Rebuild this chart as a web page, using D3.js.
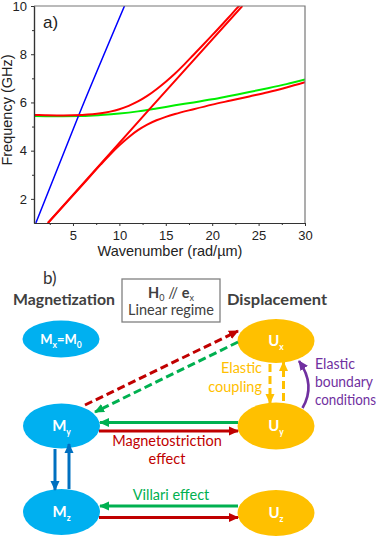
<!DOCTYPE html>
<html>
<head>
    <title>Dispersion and coupling</title>
    <script src="https://d3js.org/d3.v7.min.js"></script>
    <style>
        body { margin: 0; background: #fff; }
        .tick text { font-family: "Liberation Sans", Arial, sans-serif; font-size: 13px; fill: #222; }
        .dia { font-family: Lato, "Open Sans", sans-serif; }
    </style>
</head>
<body>
<svg width="382" height="537"></svg>
<script>
    // dispersion curves (k in rad/um, f in GHz)
    var blueK = [1.0, 5.6, 10.55];
    var blueF = [1.0, 5.45, 10.0];

    var elasticK = [2.3, 13.2, 23.25];
    var elasticF = [1.0, 5.7, 10.0];

    var upperK = [0.8, 2, 4, 6, 8, 9, 10, 11, 12, 13, 14, 15, 16, 17, 18, 19, 20, 21, 22, 23, 23.5];
    var upperF = [5.48, 5.47, 5.46, 5.48, 5.55, 5.62, 5.72, 5.86, 6.04, 6.27, 6.55, 6.86, 7.2, 7.58, 7.98, 8.38, 8.79, 9.2, 9.62, 10.04, 10.2];

    var lowerK = [2.3, 4, 6, 8, 9, 10, 11, 12, 13, 14, 15, 16, 18, 20, 22, 24, 26, 28, 30];
    var lowerF = [1.0, 1.72, 2.57, 3.43, 3.84, 4.22, 4.56, 4.85, 5.08, 5.26, 5.4, 5.52, 5.72, 5.91, 6.08, 6.25, 6.42, 6.62, 6.84];

    var greenK = [0.8, 3, 6, 8, 10, 12, 14, 16, 18, 20, 22, 24, 26, 28, 30];
    var greenF = [5.44, 5.43, 5.44, 5.48, 5.54, 5.63, 5.75, 5.88, 6.0, 6.13, 6.28, 6.43, 6.59, 6.76, 6.95];

    var xTicks = [5, 10, 15, 20, 25, 30];
    var xMinor = [2.5, 7.5, 12.5, 17.5, 22.5, 27.5];
    var yTicks = [2, 4, 6, 8, 10];
    var yMinor = [3, 5, 7, 9];

    var svg = d3.select("svg");

    var x = d3.scaleLinear().domain([0.8, 30]).range([34, 305]);
    var y = d3.scaleLinear().domain([1, 10]).range([223, 6]);

    function zip(ks, fs) {
        return ks.map(function (k, i) { return [k, fs[i]]; });
    }

    // ---------- panel a ----------
    svg.append("defs").append("clipPath").attr("id", "plotclip")
        .append("rect")
        .attr("x", x.range()[0]).attr("y", y.range()[1])
        .attr("width", x.range()[1] - x.range()[0])
        .attr("height", y.range()[0] - y.range()[1]);

    var line = d3.line()
        .x(function (d) { return x(d[0]); })
        .y(function (d) { return y(d[1]); })
        .curve(d3.curveMonotoneX);

    var curves = [
        {pts: zip(greenK, greenF), color: "#00ee00", w: 2},
        {pts: zip(blueK, blueF), color: "#0000ff", w: 1.5},
        {pts: zip(elasticK, elasticF), color: "#ff0000", w: 2},
        {pts: zip(upperK, upperF), color: "#ff0000", w: 2},
        {pts: zip(lowerK, lowerF), color: "#ff0000", w: 2}
    ];

    svg.append("g")
        .attr("clip-path", "url(#plotclip)")
        .selectAll("path")
        .data(curves)
        .enter().append("path")
        .attr("fill", "none")
        .attr("stroke", function (d) { return d.color; })
        .attr("stroke-width", function (d) { return d.w; })
        .attr("d", function (d) { return line(d.pts); });

    // frame (top and right)
    svg.append("path")
        .attr("d", "M" + x.range()[0] + "," + y.range()[1] + "H" + x.range()[1] + "V" + y.range()[0])
        .attr("fill", "none")
        .attr("stroke", "#777")
        .attr("stroke-width", 1.2);

    var gx = svg.append("g").attr("transform", "translate(0," + y.range()[0] + ")");
    gx.call(d3.axisBottom(x).tickValues(xTicks).tickSize(3).tickPadding(5).tickSizeOuter(0));
    gx.append("g").call(d3.axisBottom(x).tickValues(xMinor).tickSize(2).tickFormat("").tickSizeOuter(0));

    var gy = svg.append("g").attr("transform", "translate(" + x.range()[0] + ",0)");
    gy.call(d3.axisLeft(y).tickValues(yTicks).tickSize(3).tickPadding(4).tickSizeOuter(0));
    gy.append("g").call(d3.axisLeft(y).tickValues(yMinor).tickSize(2).tickFormat("").tickSizeOuter(0));

    svg.selectAll(".domain").attr("stroke", "#333").attr("stroke-width", 1.2);
    svg.selectAll(".tick line").attr("stroke", "#333");

    svg.append("text")
        .attr("x", 170).attr("y", 256)
        .attr("text-anchor", "middle")
        .style("font-family", "'Liberation Sans', Arial, sans-serif")
        .style("font-size", "14.5px")
        .attr("fill", "#222")
        .text("Wavenumber (rad/\u00b5m)");

    svg.append("text")
        .attr("transform", "translate(12,110) rotate(-90)")
        .attr("text-anchor", "middle")
        .style("font-family", "'Liberation Sans', Arial, sans-serif")
        .style("font-size", "14.5px")
        .attr("fill", "#222")
        .text("Frequency (GHz)");

    svg.append("text")
        .attr("x", 43).attr("y", 28)
        .style("font-family", "'Liberation Sans', Arial, sans-serif")
        .style("font-size", "17px")
        .attr("fill", "#222")
        .text("a)");

    // ---------- panel b ----------
    var dia = svg.append("g").attr("class", "dia");
    var defs = svg.select("defs");

    var arrowColors = {red: "#c00000", green: "#00b050", blue: "#0070c0", gold: "#ffc000", purple: "#7030a0"};
    Object.keys(arrowColors).forEach(function (key) {
        defs.append("marker")
            .attr("id", "head-" + key)
            .attr("markerUnits", "userSpaceOnUse")
            .attr("viewBox", "0 0 10 10")
            .attr("refX", 9).attr("refY", 5)
            .attr("markerWidth", 10).attr("markerHeight", 10)
            .attr("orient", "auto")
            .append("path")
            .attr("d", "M0,0.5L10,5L0,9.5z")
            .attr("fill", arrowColors[key]);
    });

    dia.append("text").attr("x", 43).attr("y", 284)
        .style("font-size", "17px").attr("fill", "#333").text("b)");

    dia.append("text").attr("x", 13).attr("y", 305)
        .style("font-size", "15px").style("font-weight", "bold").attr("fill", "#404040")
        .attr("textLength", 102).attr("lengthAdjust", "spacingAndGlyphs")
        .text("Magnetization");
    dia.append("text").attr("x", 227).attr("y", 305)
        .style("font-size", "15px").style("font-weight", "bold").attr("fill", "#404040")
        .attr("textLength", 100).attr("lengthAdjust", "spacingAndGlyphs")
        .text("Displacement");

    dia.append("rect")
        .attr("x", 122).attr("y", 279).attr("width", 98).attr("height", 43)
        .attr("fill", "none").attr("stroke", "#808080").attr("stroke-width", 1.3);

    var h = dia.append("text").attr("x", 171).attr("y", 297.5)
        .attr("text-anchor", "middle").style("font-size", "14.5px").attr("fill", "#404040");
    h.append("tspan").style("font-weight", "bold").text("H");
    h.append("tspan").attr("dy", 3).style("font-size", "9px").text("0");
    h.append("tspan").attr("dy", -3).text(" // ");
    h.append("tspan").style("font-weight", "bold").text("e");
    h.append("tspan").attr("dy", 3).style("font-size", "9px").text("x");

    dia.append("text").attr("x", 171).attr("y", 315)
        .attr("text-anchor", "middle").style("font-size", "14.5px").attr("fill", "#404040")
        .text("Linear regime");

    var nodes = [
        {id: "M0", cx: 61, cy: 339, ry: 18.5, fill: "#00b0f0", base: "M", sub: "x", tail: "=M", tailSub: "0"},
        {id: "My", cx: 61.5, cy: 426, ry: 22.5, fill: "#00b0f0", base: "M", sub: "y"},
        {id: "Mz", cx: 61.5, cy: 512, ry: 23, fill: "#00b0f0", base: "M", sub: "z"},
        {id: "Ux", cx: 276, cy: 341, ry: 22, fill: "#ffc000", base: "U", sub: "x"},
        {id: "Uy", cx: 276, cy: 426, ry: 23.5, fill: "#ffc000", base: "U", sub: "y"},
        {id: "Uz", cx: 276, cy: 513, ry: 23, fill: "#ffc000", base: "U", sub: "z"}
    ];

    dia.selectAll("ellipse")
        .data(nodes)
        .enter().append("ellipse")
        .attr("cx", function (d) { return d.cx; })
        .attr("cy", function (d) { return d.cy; })
        .attr("rx", 38.5)
        .attr("ry", function (d) { return d.ry; })
        .attr("fill", function (d) { return d.fill; });

    nodes.forEach(function (d) {
        var t = dia.append("text")
            .attr("x", d.cx).attr("y", d.cy + 5)
            .attr("text-anchor", "middle")
            .style("font-size", d.tail ? "13px" : "15px")
            .style("font-weight", "bold")
            .attr("fill", "#fff");
        t.append("tspan").text(d.base);
        t.append("tspan").attr("dy", 4).style("font-size", "8.5px").text(d.sub);
        if (d.tail) {
            t.append("tspan").attr("dy", -4).text(d.tail);
            t.append("tspan").attr("dy", 4).style("font-size", "8.5px").text(d.tailSub);
        }
    });

    var arrows = [
        {x1: 85, y1: 405, x2: 238, y2: 331, c: "red", dash: true},
        {x1: 238, y1: 342, x2: 95, y2: 412, c: "green", dash: true},
        {x1: 238, y1: 422.5, x2: 100, y2: 422.5, c: "green"},
        {x1: 99, y1: 431, x2: 238, y2: 431, c: "red"},
        {x1: 238, y1: 506, x2: 100, y2: 506, c: "green"},
        {x1: 99, y1: 517.5, x2: 238, y2: 517.5, c: "red"},
        {x1: 55, y1: 449, x2: 55, y2: 490, c: "blue"},
        {x1: 69, y1: 489, x2: 69, y2: 444, c: "blue"},
        {x1: 270, y1: 364, x2: 270, y2: 403, c: "gold", dash: true},
        {x1: 283.5, y1: 401, x2: 283.5, y2: 362, c: "gold", dash: true}
    ];

    dia.selectAll("line.arrow")
        .data(arrows)
        .enter().append("line")
        .attr("class", "arrow")
        .attr("x1", function (d) { return d.x1; })
        .attr("y1", function (d) { return d.y1; })
        .attr("x2", function (d) { return d.x2; })
        .attr("y2", function (d) { return d.y2; })
        .attr("stroke", function (d) { return arrowColors[d.c]; })
        .attr("stroke-width", 3)
        .attr("stroke-dasharray", function (d) { return d.dash ? "8,4" : null; })
        .attr("marker-end", function (d) { return "url(#head-" + d.c + ")"; });

    dia.append("path")
        .attr("d", "M302.5,408 Q316,385 299,361")
        .attr("fill", "none")
        .attr("stroke", arrowColors.purple)
        .attr("stroke-width", 2.6)
        .attr("marker-end", "url(#head-purple)");

    function label(lines, xx, y0, dy, anchor, color, size, lengths) {
        var t = dia.append("text").attr("text-anchor", anchor).style("font-size", size + "px").attr("fill", color);
        lines.forEach(function (s, i) {
            var ts = t.append("tspan").attr("x", xx).attr("y", y0 + i * dy).text(s);
            if (lengths && lengths[i]) ts.attr("textLength", lengths[i]).attr("lengthAdjust", "spacingAndGlyphs");
        });
    }

    label(["Elastic", "coupling"], 262, 373, 18.5, "end", arrowColors.gold, 14.5);
    label(["Elastic", "boundary", "conditions"], 315, 369, 18, "start", arrowColors.purple, 14.5, [40, 58, 61]);
    label(["Magnetostriction", "effect"], 167, 446, 17.5, "middle", arrowColors.red, 14.5);
    label(["Villari effect"], 171, 500, 0, "middle", arrowColors.green, 14.5);
</script>
</body>
</html>
